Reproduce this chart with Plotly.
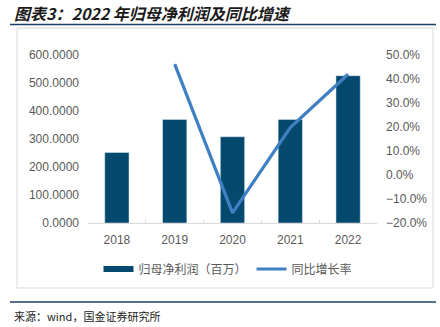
import plotly.graph_objects as go

years = ["2018", "2019", "2020", "2021", "2022"]
profit = [252, 370, 308, 370, 526]
growth = [None, 0.462, -0.158, 0.198, 0.42]

title_text = "图表3：2022 年归母净利润及同比增速"
source_text = "来源：wind，国金证券研究所"
bar_name = "归母净利润（百万）"
line_name = "同比增长率"

BAR_C = "#034a6e"
LINE_C = "#3f7fc3"
GRAY = "#595959"
DARK = "#1f3f66"

# pixel geometry
W, H = 440, 327
L, R, T, B = 88, 63, 55, 104
pw, ph = W - L - R, H - T - B

def px(x):
    return (x - L) / pw

def py(y):
    return (H - B - y) / ph

fig = go.Figure()
fig.add_trace(go.Bar(x=years, y=profit, marker_color=BAR_C, width=0.42,
                     name=bar_name, showlegend=False, yaxis="y"))
# legend swatch for bar as a thick line
fig.add_trace(go.Scatter(x=[None], y=[None], mode="lines", name=bar_name,
                         line=dict(color=BAR_C, width=6), yaxis="y"))
fig.add_trace(go.Scatter(x=years, y=growth, mode="lines", name=line_name,
                         line=dict(color=LINE_C, width=3.2), yaxis="y2",
                         connectgaps=False))

tickfont = dict(family="Liberation Sans, Arial", size=12, color=GRAY)
fig.update_layout(
    width=W, height=H,
    margin=dict(l=L, r=R, t=T, b=B),
    paper_bgcolor="white", plot_bgcolor="white",
    showlegend=True,
    legend=dict(orientation="h", x=px(228), xanchor="center", y=py(269), yanchor="middle",
                font=dict(family="Noto Sans CJK SC", size=12, color=GRAY),
                itemwidth=30, bgcolor="rgba(0,0,0,0)"),
    xaxis=dict(type="category", showgrid=False, showline=True, linecolor="#d9d9d9",
               linewidth=1, ticks="inside", tickson="boundaries", ticklen=3,
               tickcolor="#d9d9d9", tickfont=tickfont, ticklabelstandoff=6),
    yaxis=dict(range=[0, 600], dtick=100, tickformat=".4f", showgrid=False,
               zeroline=False, tickfont=tickfont, ticklabelstandoff=8),
    yaxis2=dict(range=[-0.2, 0.5], dtick=0.1, tickformat=".1%", overlaying="y",
                side="right", showgrid=False, zeroline=False, tickfont=tickfont,
                ticklabelstandoff=8),
    bargap=0.58,
)

shapes = [
    # frame
    dict(type="rect", xref="paper", yref="paper", x0=px(17), x1=px(433), y0=py(288), y1=py(28),
         line=dict(color="#d9d9d9", width=1), layer="below"),
    # title underline
    dict(type="line", xref="paper", yref="paper", x0=px(10), x1=px(436), y0=py(24.5), y1=py(24.5),
         line=dict(color=DARK, width=1.5)),
    # source line
    dict(type="line", xref="paper", yref="paper", x0=px(10), x1=px(436), y0=py(302), y1=py(302),
         line=dict(color=DARK, width=1.5)),
]
fig.update_layout(shapes=shapes)

fig.add_annotation(text="<b><i>" + title_text + "</i></b>", xref="paper", yref="paper",
                   x=px(12), y=py(13), xanchor="left", yanchor="middle", showarrow=False,
                   font=dict(family="Noto Sans CJK SC", size=16, color="#1a1a1a"))
fig.add_annotation(text=source_text, xref="paper", yref="paper",
                   x=px(12), y=py(316), xanchor="left", yanchor="middle", showarrow=False,
                   font=dict(family="Noto Sans CJK SC", size=11, color="#222222"))

fig.write_html("out.html")
